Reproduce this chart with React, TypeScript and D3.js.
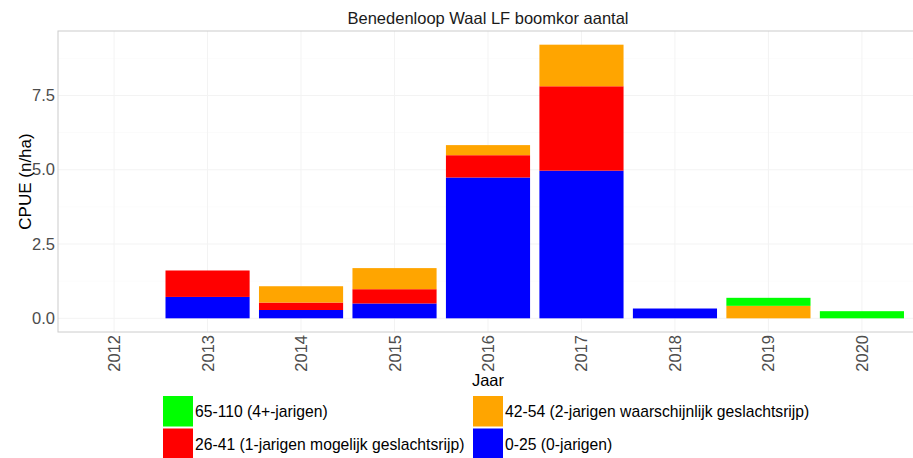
import * as d3 from 'd3';

const YEARS = ['2012', '2013', '2014', '2015', '2016', '2017', '2018', '2019', '2020'];
// stacked bottom-to-top: 0-25, 26-41, 42-54, 65-110
const BLUE_025 = [0, 0.72, 0.28, 0.5, 4.74, 4.97, 0.33, 0, 0];
const RED_2641 = [0, 0.89, 0.25, 0.48, 0.75, 2.84, 0, 0, 0];
const ORANGE_4254 = [0, 0, 0.55, 0.71, 0.34, 1.4, 0, 0.42, 0];
const GREEN_65110 = [0, 0, 0, 0, 0, 0, 0, 0.27, 0.24];

const Y_TICKS = [0, 2.5, 5, 7.5];

const SERIES = [
  { key: 'blue', label: '0-25 (0-jarigen)', color: '#0000ff', values: BLUE_025 },
  { key: 'red', label: '26-41 (1-jarigen mogelijk geslachtsrijp)', color: '#ff0000', values: RED_2641 },
  { key: 'orange', label: '42-54 (2-jarigen waarschijnlijk geslachtsrijp)', color: '#ffa500', values: ORANGE_4254 },
  { key: 'green', label: '65-110 (4+-jarigen)', color: '#00ff00', values: GREEN_65110 },
];

// legend order: column-wise green, red | orange, blue
const LEGEND_ORDER = ['green', 'red', 'orange', 'blue'];

const W = 913;
const H = 458;
const FONT = '"Liberation Sans", Arial, sans-serif';

export default function App() {
  const panel = { left: 58, right: 918, top: 31, bottom: 332 };

  const rows = YEARS.map((y, i) => {
    const r: Record<string, number | string> = { year: y };
    SERIES.forEach(s => { r[s.key] = s.values[i]; });
    return r;
  });
  const stack = d3.stack<Record<string, number | string>>()
    .keys(SERIES.map(s => s.key))
    .value((d, k) => d[k] as number);
  const layers = stack(rows);

  const maxTotal = d3.max(layers[layers.length - 1], d => d[1]) ?? 1;
  const pad = maxTotal * 0.05;
  const y = d3.scaleLinear()
    .domain([-pad, maxTotal + pad])
    .range([panel.bottom, panel.top]);

  // ggplot-style discrete expansion of 0.6 units each side
  const n = YEARS.length;
  const step = (panel.right - panel.left) / (n - 1 + 1.2);
  const x = (i: number) => panel.left + step * (0.6 + i);
  const barW = step * 0.9;

  const minorTicks = Y_TICKS.map(t => t + 1.25).filter(t => t < maxTotal + pad);

  const legendItems = LEGEND_ORDER.map(k => SERIES.find(s => s.key === k)!);

  return (
    <div style={{ position: 'fixed', left: 0, top: 0 }}>
      <svg width={W} height={H} style={{ fontFamily: FONT, display: 'block', background: 'white' }}>
        {/* title */}
        <text x={(panel.left + panel.right) / 2} y={24} fontSize={16.5} textAnchor="middle" fill="#1a1a1a">
          Benedenloop Waal LF boomkor aantal
        </text>

        {/* grid */}
        {minorTicks.map(t => (
          <line key={'m' + t} x1={panel.left} x2={panel.right} y1={y(t)} y2={y(t)} stroke="#f9f9f9" strokeWidth={0.6} />
        ))}
        {Y_TICKS.map(t => (
          <line key={'g' + t} x1={panel.left} x2={panel.right} y1={y(t)} y2={y(t)} stroke="#f3f3f3" strokeWidth={1} />
        ))}
        {YEARS.map((yr, i) => (
          <line key={'v' + yr} x1={x(i)} x2={x(i)} y1={panel.top} y2={panel.bottom} stroke="#f3f3f3" strokeWidth={1} />
        ))}

        {/* bars */}
        {layers.map((layer, li) => (
          <g key={SERIES[li].key}>
            {layer.map((d, i) => (
              d[1] - d[0] > 0 ? (
                <rect
                  key={i}
                  x={x(i) - barW / 2}
                  y={y(d[1])}
                  width={barW}
                  height={y(d[0]) - y(d[1])}
                  fill={SERIES[li].color}
                />
              ) : null
            ))}
          </g>
        ))}

        {/* panel border */}
        <rect x={panel.left} y={panel.top} width={panel.right - panel.left} height={panel.bottom - panel.top}
          fill="none" stroke="#cccccc" strokeWidth={1} />

        {/* y axis labels */}
        {Y_TICKS.map(t => (
          <text key={'yl' + t} x={55} y={y(t) + 5.5} fontSize={16.5} textAnchor="end" fill="#4d4d4d">
            {t.toFixed(1)}
          </text>
        ))}
        <text transform={`translate(31,${(panel.top + panel.bottom) / 2}) rotate(-90)`} fontSize={17}
          textAnchor="middle" fill="#000">
          CPUE (n/ha)
        </text>

        {/* x axis labels */}
        {YEARS.map((yr, i) => (
          <text key={'xl' + yr} transform={`translate(${x(i) + 6},${335}) rotate(-90)`} fontSize={16.5}
            textAnchor="end" fill="#4d4d4d">
            {yr}
          </text>
        ))}
        <text x={(panel.left + panel.right) / 2} y={386} fontSize={16.5} textAnchor="middle" fill="#000">
          Jaar
        </text>

        {/* legend */}
        {legendItems.map((s, i) => {
          const col = Math.floor(i / 2);
          const row = i % 2;
          const lx = col === 0 ? 163 : 473;
          const ly = 396 + row * 32.5;
          return (
            <g key={s.key}>
              <rect x={lx} y={ly} width={30} height={30.5} fill={s.color} />
              <text x={lx + 32} y={ly + 21} fontSize={15.7} fill="#000">{s.label}</text>
            </g>
          );
        })}
      </svg>
    </div>
  );
}
